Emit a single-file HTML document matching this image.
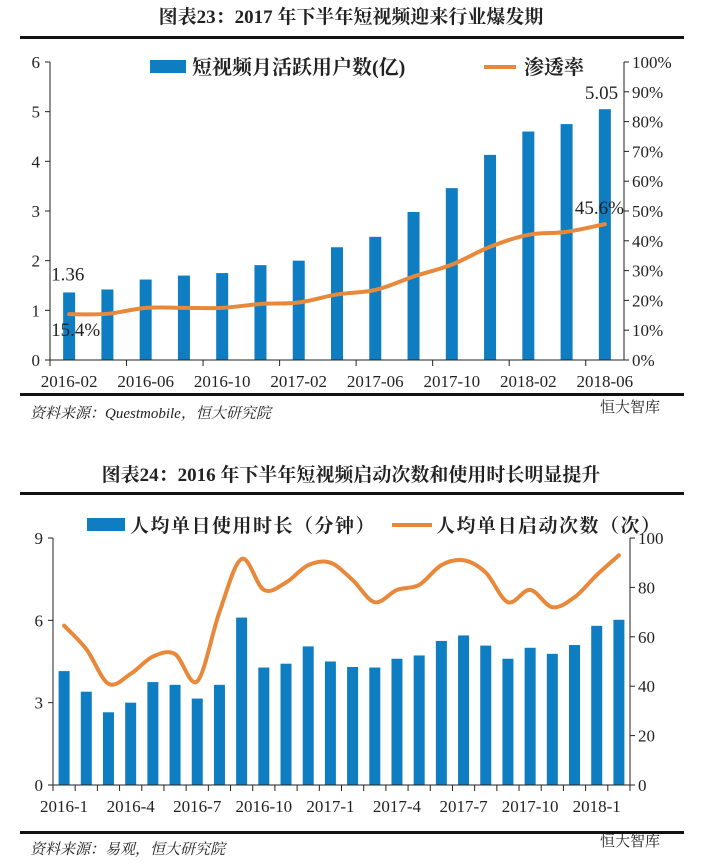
<!DOCTYPE html>
<html><head><meta charset="utf-8"><style>
body{margin:0;background:#fff;width:702px;height:862px;overflow:hidden}
svg text{font-family:"Liberation Serif","Noto Serif CJK SC",serif;fill:#222}
</style></head><body>
<svg id="s" width="702" height="862" xmlns="http://www.w3.org/2000/svg">
<text x="351" y="23" text-anchor="middle" font-size="19" font-weight="bold">图表23：2017 年下半年短视频迎来行业爆发期</text>
<rect x="20" y="36" width="664" height="3" fill="#111"/>
<g>
<rect x="150" y="60" width="36" height="13" fill="#0f7dc2"/>
<text x="192" y="74" font-size="20" font-weight="bold">短视频月活跃用户数(亿)</text>
<line x1="484" y1="67" x2="516" y2="67" stroke="#e8883a" stroke-width="4"/>
<text x="524" y="74" font-size="20" font-weight="bold">渗透率</text>
</g>
<g id="c1"></g>
<rect x="20" y="393" width="664" height="3" fill="#111"/>
<text x="30" y="418" font-size="15" font-style="italic" fill="#444">资料来源：Questmobile，恒大研究院</text>
<text x="600" y="412" font-size="15" fill="#aaa">恒大智库</text>

<text x="351" y="481" text-anchor="middle" font-size="19" font-weight="bold">图表24：2016 年下半年短视频启动次数和使用时长明显提升</text>
<rect x="20" y="492" width="664" height="3" fill="#111"/>
<g>
<rect x="87" y="518" width="38" height="13" fill="#0f7dc2"/>
<text x="130" y="532" font-size="19" font-weight="bold" letter-spacing="1.5">人均单日使用时长（分钟）</text>
<line x1="392" y1="525" x2="432" y2="525" stroke="#e8883a" stroke-width="4"/>
<text x="436" y="532" font-size="19" font-weight="bold" letter-spacing="1.5">人均单日启动次数（次）</text>
</g>
<g id="c2"></g>
<rect x="20" y="831" width="664" height="3" fill="#111"/>
<text x="30" y="854" font-size="15" font-style="italic" fill="#444">资料来源：易观，恒大研究院</text>
<text x="600" y="846" font-size="15" fill="#aaa">恒大智库</text>
</svg>
<script>
const mauValues=[1.36,1.42,1.62,1.70,1.75,1.91,2.00,2.27,2.48,2.98,3.46,4.13,4.60,4.75,5.05];
const penValues=[15.4,15.5,17.5,17.5,17.5,18.8,19.3,22,23.5,28,32,38,42,43,45.6];
const c1Labels=["2016-02","2016-06","2016-10","2017-02","2017-06","2017-10","2018-02","2018-06"];
const c1LeftTicks=[0,1,2,3,4,5,6];
const c1RightTicks=[0,10,20,30,40,50,60,70,80,90,100];

const durValues=[4.15,3.4,2.65,3.0,3.75,3.65,3.15,3.65,6.1,4.28,4.42,5.05,4.5,4.3,4.28,4.6,4.72,5.25,5.45,5.08,4.6,5.0,4.78,5.1,5.8,6.02];
const launchValues=[64.5,55,41,45,52,53,42,70,91.5,79,82,89,90,83,74,79,81,89,91,86,74,79,72,76,85,93];
const c2Labels=["2016-1","2016-4","2016-7","2016-10","2017-1","2017-4","2017-7","2017-10","2018-1"];
const c2LeftTicks=[0,3,6,9];
const c2RightTicks=[0,20,40,60,80,100];

const NS="http://www.w3.org/2000/svg";
function mk(p,t,a){const e=document.createElementNS(NS,t);for(const k in a)e.setAttribute(k,a[k]);p.appendChild(e);return e;}
function smooth(pts){let d="M"+pts[0][0]+","+pts[0][1];for(let i=0;i<pts.length-1;i++){const p0=pts[i-1]||pts[i],p1=pts[i],p2=pts[i+1],p3=pts[i+2]||p2;
d+=" C"+(p1[0]+(p2[0]-p0[0])/6)+","+(p1[1]+(p2[1]-p0[1])/6)+" "+(p2[0]-(p3[0]-p1[0])/6)+","+(p2[1]-(p3[1]-p1[1])/6)+" "+p2[0]+","+p2[1];}return d;}

function chart(g,o){
 const n=o.bars.length,band=(o.x1-o.x0)/n;
 const yL=v=>o.yb-(v/o.lmax)*(o.yb-o.yt), yR=v=>o.yb-(v/o.rmax)*(o.yb-o.yt), xc=i=>o.x0+band*(i+0.5);
 o.bars.forEach((v,i)=>{const r=mk(g,"rect",{x:xc(i)-o.bw/2,y:yL(v),width:o.bw,height:o.yb-yL(v),fill:"#0f7dc2"});
  
  });
 const pts=o.line.map((v,i)=>[xc(i),yR(v)]);
 const l=mk(g,"path",{d:smooth(pts),fill:"none",stroke:"#e8883a","stroke-width":4,"stroke-linecap":"round"});
 
 
 mk(g,"line",{x1:o.x0,y1:o.yt,x2:o.x0,y2:o.yb,stroke:"#222"});
 mk(g,"line",{x1:o.x1,y1:o.yt,x2:o.x1,y2:o.yb,stroke:"#222"});
 mk(g,"line",{x1:o.x0,y1:o.yb,x2:o.x1,y2:o.yb,stroke:"#222"});
 o.lt.forEach(v=>{mk(g,"line",{x1:o.x0-5,x2:o.x0,y1:yL(v),y2:yL(v),stroke:"#222"});
  const t=mk(g,"text",{x:o.x0-10,y:yL(v)+6,"text-anchor":"end","font-size":17});t.textContent=v;
  
  });
 o.rt.forEach(v=>{mk(g,"line",{x1:o.x1,x2:o.x1+5,y1:yR(v),y2:yR(v),stroke:"#222"});
  const t=mk(g,"text",{x:o.x1+8,y:yR(v)+6,"font-size":17});t.textContent=v+o.rs;
  
  });
 for(let i=0;i<=n;i+=o.tstep)mk(g,"line",{x1:o.x0+band*i,x2:o.x0+band*i,y1:o.yb,y2:o.yb+6,stroke:"#222"});
 o.labels.forEach((s,k)=>{const i=k*o.lstep;const t=mk(g,"text",{x:xc(i),y:o.yb+27,"text-anchor":"middle","font-size":17});t.textContent=s;
  
  });
 return {xc,yL,yR};
}
const g1=document.getElementById("c1");
const a=chart(g1,{x0:50,x1:624,yt:62,yb:360,bars:mauValues,line:penValues,lmax:6,rmax:100,lt:c1LeftTicks,rt:c1RightTicks,rs:"%",bw:12,labels:c1Labels,lstep:2,tstep:2});
const ann=[[a.xc(0)-18,a.yL(mauValues[0])-12,mauValues[0].toFixed(2)],[a.xc(0)-18,a.yR(penValues[0])+22,penValues[0]+"%"],[a.xc(14)-20,a.yL(mauValues[14])-10,mauValues[14].toFixed(2)],[a.xc(14)-30,a.yR(penValues[14])-10,penValues[14]+"%"]];
ann.forEach(q=>{const t=mk(g1,"text",{x:q[0],y:q[1],"font-size":19});t.textContent=q[2];
 
 });
chart(document.getElementById("c2"),{x0:53,x1:630,yt:538,yb:785,bars:durValues,line:launchValues,lmax:9,rmax:100,lt:c2LeftTicks,rt:c2RightTicks,rs:"",bw:11,labels:c2Labels,lstep:3,tstep:1});
</script>
</body></html>
